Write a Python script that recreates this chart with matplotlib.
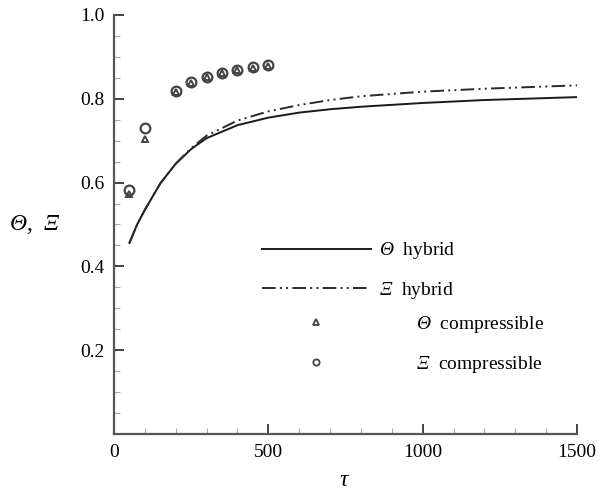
import numpy as np
import matplotlib
matplotlib.use("Agg")
import matplotlib.pyplot as plt
from matplotlib.ticker import MultipleLocator
from matplotlib.lines import Line2D

plt.rcParams['font.family'] = ['Liberation Serif', 'DejaVu Serif']
plt.rcParams['mathtext.fontset'] = 'custom'
plt.rcParams['mathtext.rm'] = 'Liberation Serif'
plt.rcParams['mathtext.it'] = 'Liberation Serif:italic'
# mathtext forces capital greek upright in 'it'; use the cal slot for italics
plt.rcParams['mathtext.cal'] = 'Liberation Serif:italic'

# hybrid model curves
tau_hyb = [50, 75, 100, 150, 200, 250, 300, 400, 500, 600, 700, 800, 1000, 1200, 1500]
theta_hyb = [0.456, 0.500, 0.535, 0.598, 0.645, 0.680, 0.706, 0.737, 0.755,
             0.767, 0.775, 0.781, 0.790, 0.797, 0.804]
xi_hyb = [0.456, 0.500, 0.535, 0.598, 0.645, 0.682, 0.712, 0.748, 0.770,
          0.785, 0.797, 0.806, 0.817, 0.824, 0.832]

# compressible results
tau_comp = [50, 100, 200, 250, 300, 350, 400, 450, 500]
theta_comp = [0.572, 0.703, 0.815, 0.838, 0.851, 0.861, 0.868, 0.874, 0.879]
xi_comp = [0.583, 0.731, 0.818, 0.840, 0.853, 0.862, 0.869, 0.875, 0.880]

TH = r'$\mathcal{\Theta}$'
XI = r'$\mathcal{\Xi}$'

fig = plt.figure(figsize=(5.99, 4.91), dpi=100)
ax = fig.add_axes((0.1903, 0.1161, 0.773, 0.8534))

dashdot2 = (0, (7, 2.2, 1, 2.2, 1, 2.2))
l1, = ax.plot(tau_hyb, theta_hyb, color='#1a1a1a', lw=1.4, label=TH + r'  hybrid')
l2, = ax.plot(tau_hyb, xi_hyb, color='#2a2a2a', lw=1.4, ls=dashdot2,
              label=XI + r'  hybrid')
ax.plot(tau_comp, theta_comp, ls='none', marker='^', ms=5, mfc='white',
        mec='#444444', mew=1.4)
ax.plot(tau_comp, xi_comp, ls='none', marker='o', ms=7, mfc='none',
        mec='#444444', mew=1.6)

ax.set_xlim(0, 1500)
ax.set_ylim(0, 1.0)
ax.xaxis.set_major_locator(MultipleLocator(500))
ax.xaxis.set_minor_locator(MultipleLocator(100))
ax.yaxis.set_minor_locator(MultipleLocator(0.05))
ax.set_yticks([0.2, 0.4, 0.6, 0.8, 1.0])
ax.set_yticklabels(['0.2', '0.4', '0.6', '0.8', '1.0'])

for s in ['top', 'right']:
    ax.spines[s].set_visible(False)
for s in ['left', 'bottom']:
    ax.spines[s].set_color('#555555')
    ax.spines[s].set_linewidth(1.6)

ax.tick_params(which='major', direction='in', length=7, width=1.4,
               color='#444444', labelsize=14, pad=7)
ax.tick_params(which='minor', direction='in', length=4, width=0.8,
               color='#aaaaaa')

ax.set_xlabel(r'$\tau$', fontsize=17, va='center')
ax.xaxis.set_label_coords(0.499, -0.11)
ax.set_ylabel(TH + ',  ' + XI, fontsize=17, rotation=0, ha='center', va='center')
ax.yaxis.set_label_coords(-0.171, 0.5)

# legends: lines and markers are aligned differently in the reference
leg1 = ax.legend(handles=[l1, l2], loc='upper left', frameon=False,
                 bbox_to_anchor=(0.319, 0.462), fontsize=14,
                 handlelength=5.6, handletextpad=0.45, labelspacing=0.95,
                 borderaxespad=0, borderpad=0)
ax.add_artist(leg1)
h3 = Line2D([], [], ls='none', marker='^', ms=4, mfc='white', mec='#444444', mew=1.3)
h4 = Line2D([], [], ls='none', marker='o', ms=4.5, mfc='white', mec='#444444', mew=1.3)
ax.legend(handles=[h3, h4], labels=[TH + r'  compressible', XI + r'  compressible'],
          loc='upper left', frameon=False, bbox_to_anchor=(0.319, 0.286),
          fontsize=14, handlelength=5.6, handletextpad=2.35, labelspacing=0.95,
          borderaxespad=0, borderpad=0)

fig.savefig('out.png', dpi=100)
